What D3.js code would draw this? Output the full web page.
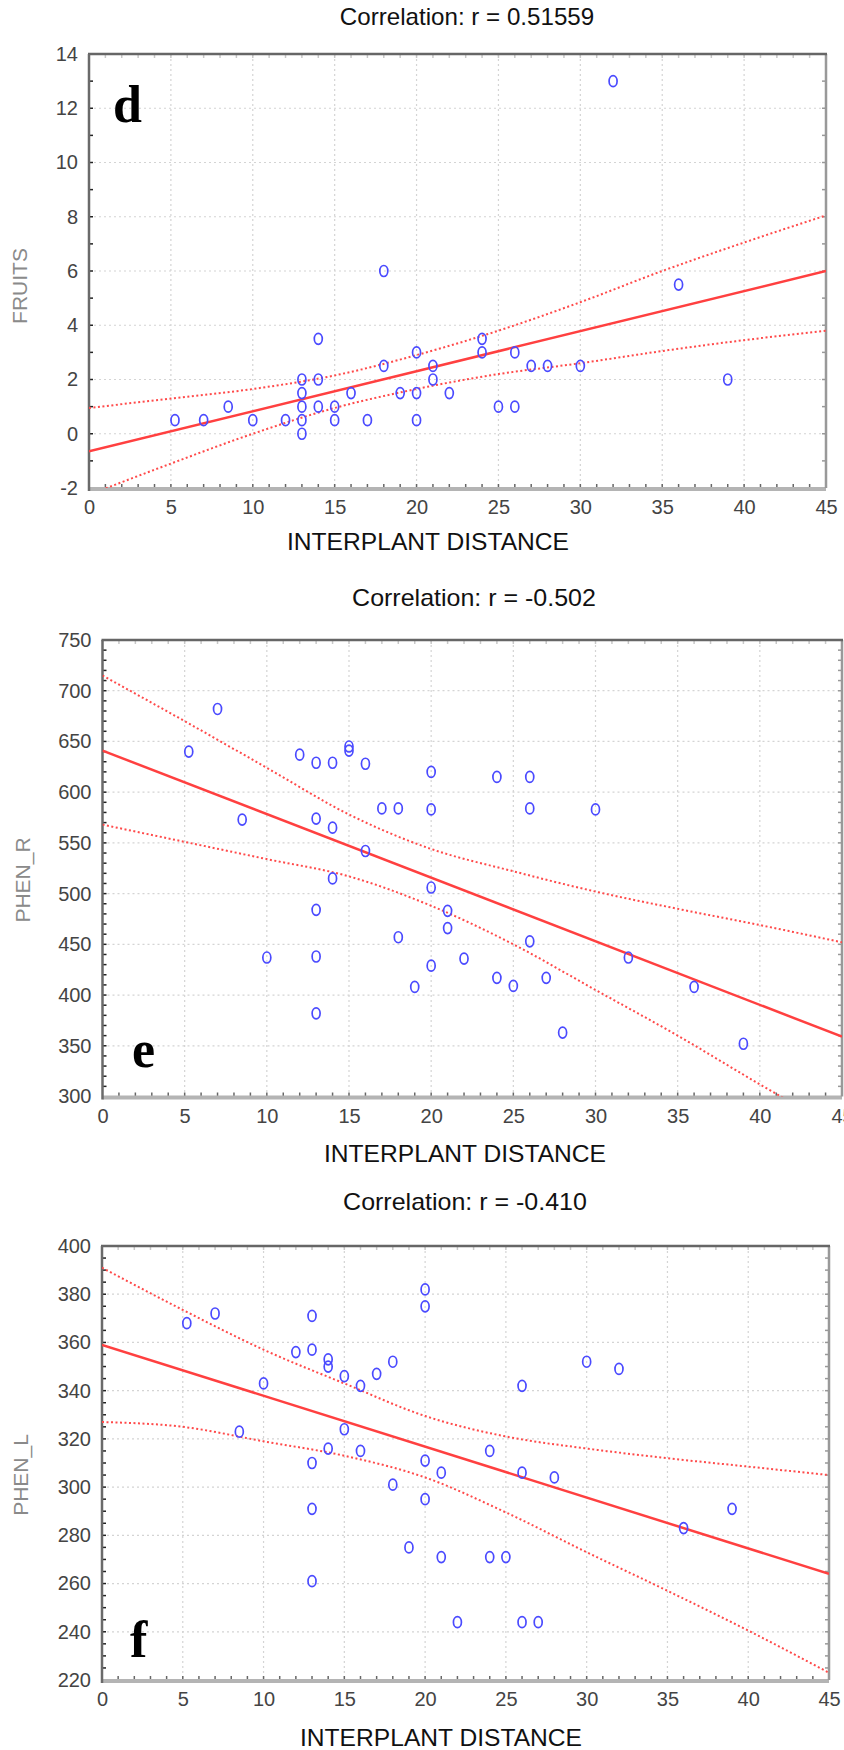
<!DOCTYPE html>
<html>
<head>
<meta charset="utf-8">
<script src="https://cdn.jsdelivr.net/npm/d3@7"></script>
<style>
  body { margin: 0; background: #fff; }
  svg { display: block; }
</style>
</head>
<body>
<div id="chart"></div>
<script>
// Three scatter panels (d, e, f): interplant distance vs FRUITS / PHEN_R / PHEN_L

var svgWidth = 844;
var svgHeight = 1750;

// ---- data ----
var distTicks = [0, 5, 10, 15, 20, 25, 30, 35, 40, 45];
var bandX = [0, 5, 10, 15, 20, 25, 30, 35, 40, 45];

// panel d : FRUITS
var fruitsX = [5.25, 7, 8.5, 10, 12, 13, 13, 13, 13, 13, 14, 14, 14, 15, 15, 16, 17, 18, 18, 19,
  20, 20, 20, 21, 21, 22, 24, 24, 25, 26, 26, 27, 28, 30, 32, 36, 39];
var fruitsY = [0.5, 0.5, 1, 0.5, 0.5, 0.5, 0, 1, 1.5, 2, 2, 1, 3.5, 1, 0.5, 1.5, 0.5, 2.5, 6, 1.5,
  1.5, 3, 0.5, 2.5, 2, 1.5, 3.5, 3, 1, 1, 3, 2.5, 2.5, 2.5, 13, 5.5, 2];
var fruitsTicks = [-2, 0, 2, 4, 6, 8, 10, 12, 14];
var fruitsFit = [-0.65, 6.0];          // fitted value at x = 0 and x = 45
var fruitsUpper = [0.95, 1.3, 1.65, 2.15, 2.9, 3.8, 4.85, 6.0, 7.05, 8.05];
var fruitsLower = [-2.25, -1.1, 0.0, 0.95, 1.65, 2.2, 2.6, 3.05, 3.45, 3.8];

// panel e : PHEN_R
var phenRX = [7, 5.25, 12, 13, 14, 15, 15, 16, 20, 24, 26, 17, 18, 20, 26, 30, 8.5, 13, 14, 16,
  14, 20, 13, 21, 21, 18, 26, 10, 13, 22, 32, 20, 24, 27, 25, 19, 36, 13, 28, 39];
var phenRY = [682, 640, 637, 629, 629, 645, 641, 628, 620, 615, 615, 584, 584, 583, 584, 583, 573, 574, 565, 542,
  515, 506, 484, 483, 466, 457, 453, 437, 438, 436, 437, 429, 417, 417, 409, 408, 408, 382, 363, 352];
var phenRTicks = [300, 350, 400, 450, 500, 550, 600, 650, 700, 750];
var phenRFit = [641, 359];
var phenRUpper = [715, 670, 624, 578, 544, 522, 502, 485, 469, 452];
var phenRLower = [568, 551, 534, 517, 488, 450, 405, 360, 312, 266];

// panel f : PHEN_L
var phenLX = [20, 20, 7, 5.25, 13, 12, 13, 14, 14, 18, 15, 17, 16, 10, 26, 30, 32, 8.5, 15, 14,
  16, 24, 13, 20, 21, 26, 28, 18, 20, 13, 39, 36, 19, 21, 24, 25, 13, 22, 26, 27];
var phenLY = [382, 375, 372, 368, 371, 356, 357, 353, 350, 352, 346, 347, 342, 343, 342, 352, 349, 323, 324, 316,
  315, 315, 310, 311, 306, 306, 304, 301, 295, 291, 291, 283, 275, 271, 271, 271, 261, 244, 244, 244];
var phenLTicks = [220, 240, 260, 280, 300, 320, 340, 360, 380, 400];
var phenLFit = [359, 264];
var phenLUpper = [391, 373.5, 357, 343, 329.5, 321, 316, 312, 308.5, 305];
var phenLLower = [327, 325, 319, 313, 304, 289.5, 273, 257, 240.5, 223];

// ---- svg ----
var svg = d3.select("#chart")
  .append("svg")
  .attr("width", svgWidth)
  .attr("height", svgHeight)
  .style("background", "#fff");

var sansFont = "'Liberation Sans', Arial, sans-serif";

var panels = [
  {
    id: "d", title: "Correlation: r = 0.51559", yLabel: "FRUITS",
    xs: fruitsX, ys: fruitsY, yTicks: fruitsTicks, fit: fruitsFit, upper: fruitsUpper, lower: fruitsLower,
    left: 89, right: 826, top: 54, bottom: 488, yMinor: 1,
    titleX: 467, titleY: 25, xLabX: 428, xLabY: 550, yLabX: 27, yLabY: 286, letterX: 113, letterY: 122
  },
  {
    id: "e", title: "Correlation: r = -0.502", yLabel: "PHEN_R",
    xs: phenRX, ys: phenRY, yTicks: phenRTicks, fit: phenRFit, upper: phenRUpper, lower: phenRLower,
    left: 102.5, right: 842, top: 640, bottom: 1096.5, yMinor: 10,
    titleX: 474, titleY: 606, xLabX: 465, xLabY: 1162, yLabX: 30, yLabY: 880, letterX: 132, letterY: 1067
  },
  {
    id: "f", title: "Correlation: r = -0.410", yLabel: "PHEN_L",
    xs: phenLX, ys: phenLY, yTicks: phenLTicks, fit: phenLFit, upper: phenLUpper, lower: phenLLower,
    left: 102, right: 829, top: 1246, bottom: 1680, yMinor: 5,
    titleX: 465, titleY: 1210, xLabX: 441, xLabY: 1746, yLabX: 28, yLabY: 1475, letterX: 130, letterY: 1657
  }
];

panels.forEach(drawPanel);

function drawPanel(p) {
  var yDomain = d3.extent(p.yTicks);

  var xScale = d3.scaleLinear().domain([0, 45]).range([p.left, p.right]);
  var yScale = d3.scaleLinear().domain(yDomain).range([p.bottom, p.top]);

  var g = svg.append("g").attr("class", "panel-" + p.id);

  // clip for lines
  svg.append("clipPath")
    .attr("id", "clip-" + p.id)
    .append("rect")
    .attr("x", p.left)
    .attr("y", p.top)
    .attr("width", p.right - p.left)
    .attr("height", p.bottom - p.top);

  // dotted grid
  g.selectAll(null)
    .data(distTicks.slice(1, -1))
    .enter()
    .append("line")
    .attr("x1", d => xScale(d))
    .attr("x2", d => xScale(d))
    .attr("y1", p.top)
    .attr("y2", p.bottom)
    .attr("stroke", "#d4d4d4")
    .attr("stroke-width", 1.2)
    .attr("stroke-dasharray", "2,3");

  g.selectAll(null)
    .data(p.yTicks.slice(1, -1))
    .enter()
    .append("line")
    .attr("x1", p.left)
    .attr("x2", p.right)
    .attr("y1", d => yScale(d))
    .attr("y2", d => yScale(d))
    .attr("stroke", "#d4d4d4")
    .attr("stroke-width", 1.2)
    .attr("stroke-dasharray", "2,3");

  // axes (labels only, frame drawn separately); plain hyphen for negatives
  var bottomAxis = d3.axisBottom(xScale).tickValues(distTicks).tickSize(0).tickPadding(12)
    .tickFormat(d => String(d));
  var leftAxis = d3.axisLeft(yScale).tickValues(p.yTicks).tickSize(0).tickPadding(11)
    .tickFormat(d => String(d));

  var xAxisG = g.append("g")
    .attr("transform", `translate(0, ${p.bottom})`)
    .call(bottomAxis);
  var yAxisG = g.append("g")
    .attr("transform", `translate(${p.left}, 0)`)
    .call(leftAxis);

  [xAxisG, yAxisG].forEach(function (ax) {
    ax.select(".domain").remove();
    ax.selectAll("text")
      .attr("fill", "#444")
      .style("font-family", sansFont)
      .style("font-size", "20px");
  });

  // minor ticks inside the frame
  var xMinor = d3.range(1, 45);
  var yMinor = d3.range(yDomain[0] + p.yMinor, yDomain[1], p.yMinor);

  g.selectAll(null)
    .data(xMinor)
    .enter()
    .append("line")
    .attr("x1", d => xScale(d))
    .attr("x2", d => xScale(d))
    .attr("y1", p.bottom - 4)
    .attr("y2", p.bottom)
    .attr("stroke", "#666")
    .attr("stroke-width", 1.5);

  g.selectAll(null)
    .data(xMinor)
    .enter()
    .append("line")
    .attr("x1", d => xScale(d))
    .attr("x2", d => xScale(d))
    .attr("y1", p.top)
    .attr("y2", p.top + 4)
    .attr("stroke", "#c8c8c8")
    .attr("stroke-width", 1.5);

  g.selectAll(null)
    .data(yMinor)
    .enter()
    .append("line")
    .attr("x1", p.left)
    .attr("x2", p.left + 4)
    .attr("y1", d => yScale(d))
    .attr("y2", d => yScale(d))
    .attr("stroke", "#222")
    .attr("stroke-width", 1.5);

  g.selectAll(null)
    .data(yMinor)
    .enter()
    .append("line")
    .attr("x1", p.right - 4)
    .attr("x2", p.right)
    .attr("y1", d => yScale(d))
    .attr("y2", d => yScale(d))
    .attr("stroke", "#999")
    .attr("stroke-width", 1.5);

  // frame
  g.append("line")
    .attr("x1", p.left).attr("x2", p.right)
    .attr("y1", p.bottom + 1).attr("y2", p.bottom + 1)
    .attr("stroke", "#b4b4b4").attr("stroke-width", 4);
  g.append("line")
    .attr("x1", p.right).attr("x2", p.right)
    .attr("y1", p.top).attr("y2", p.bottom)
    .attr("stroke", "#999").attr("stroke-width", 2.5);
  g.append("line")
    .attr("x1", p.left - 1).attr("x2", p.right + 1)
    .attr("y1", p.top).attr("y2", p.top)
    .attr("stroke", "#666").attr("stroke-width", 2.5);
  g.append("line")
    .attr("x1", p.left).attr("x2", p.left)
    .attr("y1", p.top).attr("y2", p.bottom + 3)
    .attr("stroke", "#6a6a6a").attr("stroke-width", 2.5);

  // regression line and confidence bands
  var lineGen = d3.line()
    .x(d => xScale(d[0]))
    .y(d => yScale(d[1]));

  var bandGen = d3.line()
    .curve(d3.curveMonotoneX)
    .x(d => xScale(d[0]))
    .y(d => yScale(d[1]));

  var lines = g.append("g").attr("clip-path", "url(#clip-" + p.id + ")");

  lines.append("path")
    .datum(bandX.map((x, i) => [x, p.upper[i]]))
    .attr("d", bandGen)
    .attr("fill", "none")
    .attr("stroke", "#ff4a4a")
    .attr("stroke-width", 2)
    .attr("stroke-dasharray", "2,2.5");

  lines.append("path")
    .datum(bandX.map((x, i) => [x, p.lower[i]]))
    .attr("d", bandGen)
    .attr("fill", "none")
    .attr("stroke", "#ff4a4a")
    .attr("stroke-width", 2)
    .attr("stroke-dasharray", "2,2.5");

  lines.append("path")
    .datum([[0, p.fit[0]], [45, p.fit[1]]])
    .attr("d", lineGen)
    .attr("fill", "none")
    .attr("stroke", "#ff4040")
    .attr("stroke-width", 2.5);

  // points: small blue open ovals
  g.selectAll(null)
    .data(p.xs.map((x, i) => [x, p.ys[i]]))
    .enter()
    .append("ellipse")
    .attr("cx", d => xScale(d[0]))
    .attr("cy", d => yScale(d[1]))
    .attr("rx", 4)
    .attr("ry", 5.5)
    .attr("fill", "none")
    .attr("stroke", "#4a4aff")
    .attr("stroke-width", 1.7);

  // title
  g.append("text")
    .attr("x", p.titleX)
    .attr("y", p.titleY)
    .attr("text-anchor", "middle")
    .attr("textLength", p.title.length * 10.6)
    .attr("lengthAdjust", "spacingAndGlyphs")
    .style("font-family", sansFont)
    .style("font-size", "24px")
    .attr("fill", "#111")
    .text(p.title);

  // x axis label
  g.append("text")
    .attr("x", p.xLabX)
    .attr("y", p.xLabY)
    .attr("text-anchor", "middle")
    .attr("textLength", 282)
    .attr("lengthAdjust", "spacingAndGlyphs")
    .style("font-family", sansFont)
    .style("font-size", "24px")
    .attr("fill", "#111")
    .text("INTERPLANT DISTANCE");

  // y axis label
  g.append("text")
    .attr("transform", `translate(${p.yLabX}, ${p.yLabY}) rotate(-90)`)
    .attr("text-anchor", "middle")
    .style("font-family", sansFont)
    .style("font-size", "21px")
    .attr("fill", "#8a8a8a")
    .text(p.yLabel);

  // panel letter
  g.append("text")
    .attr("x", p.letterX)
    .attr("y", p.letterY)
    .style("font-family", "'Liberation Serif', 'Times New Roman', serif")
    .style("font-weight", "bold")
    .style("font-size", "52px")
    .attr("fill", "#000")
    .text(p.id);
}
</script>
</body>
</html>
